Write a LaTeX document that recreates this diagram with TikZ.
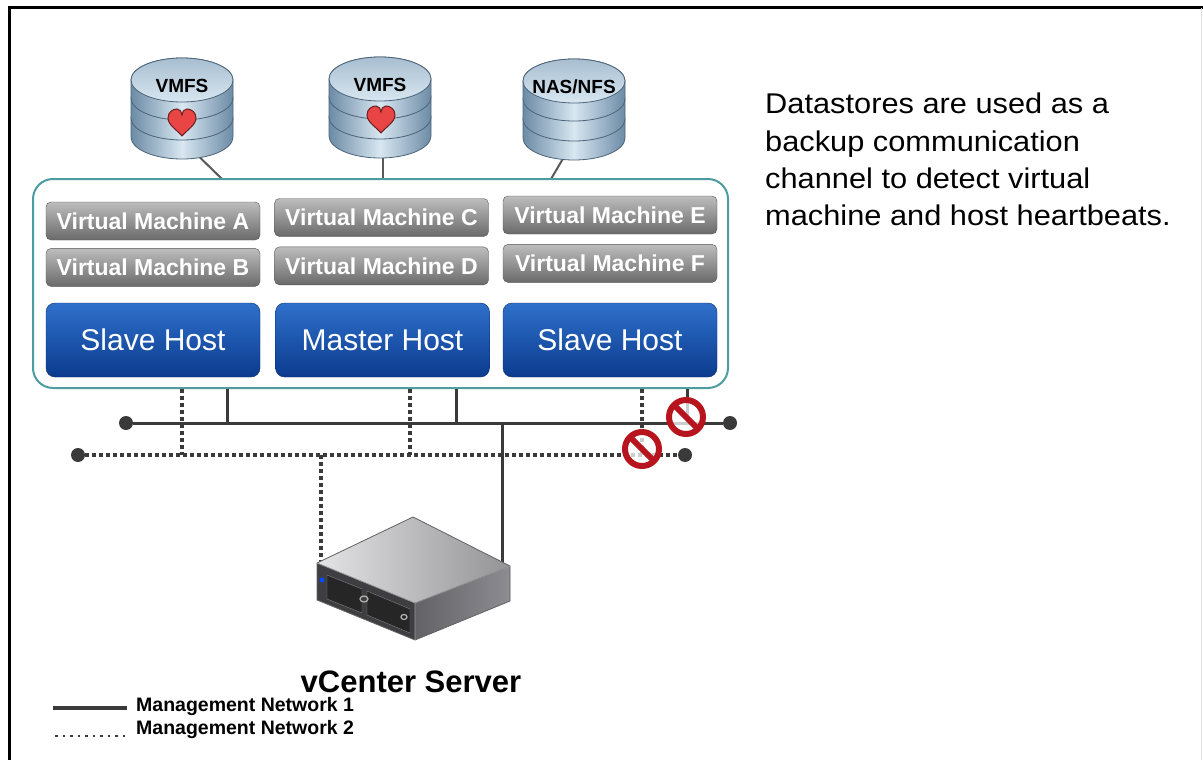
\documentclass[tikz,border=0pt]{standalone}
\usepackage{fontspec}
\setmainfont{Liberation Sans}
\newfontfamily\widesans[FakeStretch=1.08]{Liberation Sans}
\usetikzlibrary{positioning, calc}

\definecolor{netline}{HTML}{3A3A3A}
\definecolor{clusteredge}{HTML}{4C9CA0}
\definecolor{hosttop}{HTML}{2F70CB}
\definecolor{hostbot}{HTML}{0B3B8E}
\definecolor{hostedge}{HTML}{0A2D6B}
\definecolor{vmtop}{HTML}{BDBDBD}
\definecolor{vmbot}{HTML}{6A6A6A}
\definecolor{dsdark}{HTML}{6C8BA6}
\definecolor{dslight}{HTML}{D8E7F1}
\definecolor{dsedge}{HTML}{4D6478}
\definecolor{heartred}{HTML}{EA4545}
\definecolor{signred}{HTML}{B8141E}
\definecolor{srvtop}{HTML}{D2D2D6}
\definecolor{srvside}{HTML}{8C8C92}
\definecolor{srvfront}{HTML}{3E3E42}

\tikzset{
  vm/.style={
    rectangle, rounded corners=5pt,
    minimum width=214pt, minimum height=38pt, inner sep=0pt,
    top color=vmtop, bottom color=vmbot, draw=vmbot!80!black,
    text=white, font=\fontsize{23}{26}\selectfont\bfseries,
  },
  host/.style={
    rectangle, rounded corners=9pt,
    minimum width=214pt, minimum height=74pt, inner sep=0pt,
    top color=hosttop, bottom color=hostbot, draw=hostedge,
    text=white, font=\fontsize{30}{34}\selectfont,
  },
  cluster/.style={
    rectangle, rounded corners=20pt,
    minimum width=695pt, minimum height=209pt,
    draw=clusteredge, line width=2pt, fill=white,
  },
  mgmtA/.style={netline, line width=3pt},
  mgmtB/.style={netline, line width=3.5pt, dash pattern=on 3.5pt off 3.5pt},
  busend/.style={circle, fill=netline, minimum size=14pt, inner sep=0pt},
  nosign/.style={
    circle, minimum size=34pt, inner sep=0pt,
    draw=signred, line width=6pt, fill=white, fill opacity=0.75,
    path picture={\draw[signred, line width=6pt]
      (path picture bounding box.north west) -- (path picture bounding box.south east);},
  },
  dslink/.style={draw=gray!70!black, line width=2pt},
  dslabel/.style={font=\fontsize{19}{22}\selectfont\bfseries, text=black, inner sep=0pt},
  note/.style={align=left, inner sep=0pt, font=\widesans\fontsize{28.5}{37.3}\selectfont},
  caption/.style={inner sep=0pt, font=\fontsize{31}{36}\selectfont\bfseries},
  legend/.style={inner sep=0pt, font=\fontsize{19.5}{22}\selectfont\bfseries},
  pics/datastore/.style={code={
    \foreach \yt/\yb in {38/57, 18/38, 0/18} {
      \path[left color=dsdark, right color=dsdark, middle color=dslight,
            draw=dsedge, line width=0.8pt]
        (-51,\yt) -- (-51,\yb) arc[start angle=180, end angle=0, x radius=51, y radius=22]
        -- (51,\yt) arc[start angle=0, end angle=-180, x radius=51, y radius=22] -- cycle;
    }
    \path[top color=dsdark!45!dslight, bottom color=dslight, draw=dsedge, line width=0.8pt]
      (0,0) ellipse[x radius=51, y radius=22];
    \node[dslabel] (-lbl) at (0,6) {#1};
    \coordinate (-base) at (0,60);
  }},
  pics/heartbeat/.style={code={
    \path[fill=heartred, draw=heartred!45!black, line width=1pt]
      (0,13) .. controls (-5,7) and (-14,2) .. (-14,-5)
      .. controls (-14,-11) and (-9,-14) .. (-5,-14)
      .. controls (-2,-14) and (0,-11) .. (0,-8)
      .. controls (0,-11) and (2,-14) .. (5,-14)
      .. controls (9,-14) and (14,-11) .. (14,-5)
      .. controls (14,2) and (5,7) .. (0,13) -- cycle;
  }},
}

\begin{document}
\begin{tikzpicture}[x=1pt, y=-1pt]

  \useasboundingbox (0,0) rectangle (1203,760);
  \draw[line width=3pt] (9,760) -- (9,8) -- (1203,8);
  \draw[gray!25, line width=1pt] (1201.5,8) -- (1201.5,760);

  % datastores and their links into the cluster
  \coordinate (c1) at (222,179);
  \coordinate (c2) at (383,179);
  \coordinate (c3) at (551,179);
  \coordinate (d1) at (182,140);
  \coordinate (d2) at (383,140);
  \coordinate (d3) at (574,140);
  \draw[dslink] (d1) -- (c1);
  \draw[dslink] (d2) -- (c2);
  \draw[dslink] (d3) -- (c3);

  \pic (ds1) at (182,80) {datastore=VMFS};
  \pic (ds2) at (380,79) {datastore=VMFS};
  \pic (ds3) at (574,81) {datastore=NAS/NFS};
  \pic at (182,123) {heartbeat};
  \pic at (381,120) {heartbeat};

  \node[cluster] (cl) at (380.5,283.5) {};

  \node[vm] (vma) at (153,221) {Virtual Machine A};
  \node[vm, below=8pt of vma] (vmb) {Virtual Machine B};
  \node[vm] (vmc) at (381.5,217.5) {Virtual Machine C};
  \node[vm, below=10pt of vmc] (vmd) {Virtual Machine D};
  \node[vm] (vme) at (610,215) {Virtual Machine E};
  \node[vm, below=10pt of vme] (vmf) {Virtual Machine F};

  \node[host] (h1) at (153,340) {Slave Host};
  \node[host] (h2) at (382.5,340) {Master Host};
  \node[host] (h3) at (610,340) {Slave Host};

  % management networks
  \node[busend] (b1l) at (126,423) {};
  \node[busend] (b1r) at (730,423) {};
  \node[busend] (b2l) at (78,455) {};
  \node[busend] (b2r) at (685,455) {};

  \coordinate (t11) at (227,423);
  \coordinate (t12) at (456,423);
  \coordinate (t13) at (687,423);
  \coordinate (t21) at (182,455);
  \coordinate (t22) at (410,455);
  \coordinate (t23) at (642,455);
  \coordinate (tv1) at (502,423);
  \coordinate (tv2) at (321,455);

  \draw[mgmtA] (cl.south -| t11) -- (t11);
  \draw[mgmtA] (cl.south -| t12) -- (t12);
  \draw[mgmtA] (cl.south -| t13) -- (t13);
  \draw[mgmtB] (cl.south -| t21) -- (t21);
  \draw[mgmtB] (cl.south -| t22) -- (t22);
  \draw[mgmtB] (cl.south -| t23) -- (t23);
  \draw[mgmtA] (b1l) -- (b1r);
  \draw[mgmtB] (b2l) -- (b2r);

  \coordinate (srvl) at (321,562);
  \coordinate (srvr) at (502,566);
  \draw[mgmtA] (tv1) -- (srvr);
  \draw[mgmtB] (tv2) -- (srvl);

  % vCenter appliance
  \coordinate (sB) at (413,517);
  \coordinate (sL) at (317,563);
  \coordinate (sR) at (510,566);
  \coordinate (sF) at (415,603);
  \coordinate (sLb) at (317,600);
  \coordinate (sFb) at (415,640);
  \coordinate (sRb) at (510,601);
  \fill[left color=srvtop!60!white, right color=srvtop!70!black] (sL) -- (sB) -- (sR) -- (sF) -- cycle;
  \fill[srvfront] (sL) -- (sF) -- (sFb) -- (sLb) -- cycle;
  \fill[left color=srvside!70!black, right color=srvside] (sF) -- (sR) -- (sRb) -- (sFb) -- cycle;
  \draw[black!60, line width=0.8pt] (sL) -- (sB) -- (sR) -- (sRb) -- (sFb) -- (sLb) -- cycle;
  \draw[black!40, line width=0.8pt] (sL) -- (sF) -- (sR) (sF) -- (sFb);
  \filldraw[fill=black!85, draw=black!50] (327,575) -- (362,589) -- (362,613) -- (327,599) -- cycle;
  \filldraw[fill=black!85, draw=black!50] (367,591) -- (410,609) -- (410,633) -- (367,615) -- cycle;
  \draw[black!30, line width=1.2pt] (364,599) ellipse[x radius=4, y radius=3];
  \draw[black!30, line width=1.2pt] (404,617) ellipse[x radius=3, y radius=2.5];
  \fill[blue!70!cyan] (322,580) circle (2.5);
  \node[caption] (vc) at (411,682) {vCenter Server};

  \node[nosign] (x1) at (686,417) {};
  \node[nosign] (x2) at (642,449) {};

  \node[note, anchor=north west] (txt) at (765,93)
    {Datastores are used as a\\backup communication\\channel to detect virtual\\machine and host heartbeats.};

  % legend
  \coordinate (lg1a) at (53,708);
  \coordinate (lg1b) at (127,708);
  \coordinate (lg2a) at (55,736);
  \coordinate (lg2b) at (127,736);
  \draw[netline, line width=3.5pt] (lg1a) -- (lg1b);
  \draw[netline, line width=2.5pt, dash pattern=on 2.5pt off 5pt] (lg2a) -- (lg2b);
  \node[legend, anchor=west] (lg1) at (136,706) {Management Network 1};
  \node[legend, anchor=west] (lg2) at (136,729) {Management Network 2};

\end{tikzpicture}
\end{document}
